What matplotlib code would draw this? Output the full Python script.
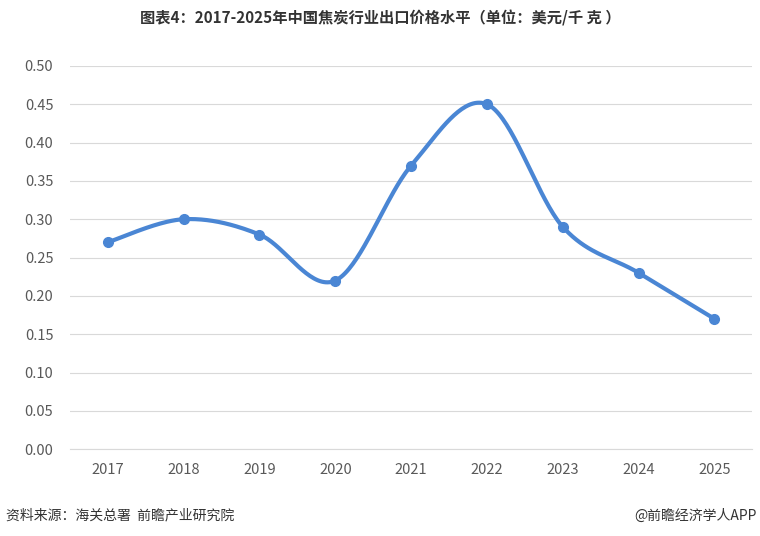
import numpy as np
import matplotlib
matplotlib.use("Agg")
import matplotlib.pyplot as plt

plt.rcParams['font.family'] = ['Noto Sans CJK SC', 'DejaVu Sans']

years = ['2017', '2018', '2019', '2020', '2021', '2022', '2023', '2024', '2025']
values = [0.27, 0.30, 0.28, 0.22, 0.37, 0.45, 0.29, 0.23, 0.17]
yticks = [0.00, 0.05, 0.10, 0.15, 0.20, 0.25, 0.30, 0.35, 0.40, 0.45, 0.50]

fig = plt.figure(figsize=(7.6, 5.36), dpi=100)
ax = fig.add_axes([0.092, 0.162, 0.898, 0.715])

x = np.arange(len(years), dtype=float)
y = np.array(values)
# Catmull-Rom smoothing for drawing
pts = np.column_stack([x, y])
P = np.vstack([pts[0], pts, pts[-1]])
sx, sy = [], []
for i in range(1, len(P) - 2):
    p0, p1, p2, p3 = P[i-1], P[i], P[i+1], P[i+2]
    t = np.linspace(0, 1, 40)[:, None]
    c = 0.5 * ((2*p1) + (-p0+p2)*t + (2*p0-5*p1+4*p2-p3)*t**2 + (-p0+3*p1-3*p2+p3)*t**3)
    sx.extend(c[:, 0]); sy.extend(c[:, 1])
color = '#4A86D4'
ax.plot(sx, sy, color=color, lw=3, solid_capstyle='round')
ax.plot(x, y, 'o', color=color, ms=7)

ax.set_xlim(-0.5, len(years) - 0.5)
ax.set_ylim(0, 0.5)
ax.set_xticks(x)
ax.set_xticklabels(years)
ax.set_yticks(yticks)
ax.set_yticklabels([f'{v:.2f}' for v in yticks])
ax.yaxis.grid(True, color='#d9d9d9', lw=0.8)
ax.set_axisbelow(True)
for s in ['top', 'right', 'left']:
    ax.spines[s].set_visible(False)
ax.spines['bottom'].set_color('#d9d9d9')
ax.tick_params(length=0, labelsize=10.5, colors='#595959')
ax.tick_params(axis='x', pad=10)
ax.tick_params(axis='y', pad=12)

fig.text(0.5, 0.965, '图表4：2017-2025年中国焦炭行业出口价格水平（单位：美元/千 克 ）',
         ha='center', va='center', fontsize=11, fontweight='bold', color='#333333')
fig.text(0.008, 0.038, '资料来源：海关总署  前瞻产业研究院', ha='left', va='center',
         fontsize=10, color='#333333')
fig.text(0.995, 0.038, '@前瞻经济学人APP', ha='right', va='center',
         fontsize=10, color='#333333')
fig.savefig('out.png', dpi=100)
